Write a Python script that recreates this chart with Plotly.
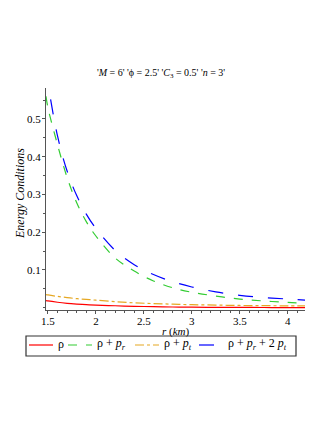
import plotly.graph_objects as go

# values
r_km = [1.48, 1.5, 1.6, 1.7, 1.8, 1.9, 2.0, 2.2, 2.4, 2.6, 2.8, 3.0, 3.25, 3.5, 3.75, 4.0, 4.18]
rho = [0.019, 0.018, 0.0145, 0.0118, 0.0098, 0.0082, 0.007, 0.0052, 0.0038, 0.0028, 0.002, 0.0015,
       0.0011, 0.0008, 0.0006, 0.0005, 0.0004]
rho_pr = [0.56, 0.530, 0.432, 0.345, 0.278, 0.228, 0.190, 0.132, 0.097, 0.071, 0.053, 0.041,
          0.031, 0.023, 0.018, 0.014, 0.012]
rho_pt = [0.035, 0.034, 0.030, 0.027, 0.024, 0.022, 0.020, 0.016, 0.013, 0.011, 0.0095, 0.008,
          0.007, 0.006, 0.0055, 0.005, 0.0048]
rho_pr_2pt = [0.63, 0.595, 0.455, 0.362, 0.297, 0.248, 0.210, 0.152, 0.114, 0.088, 0.069, 0.055,
              0.042, 0.033, 0.027, 0.023, 0.020]

x_ticks = [1.5, 2, 2.5, 3, 3.5, 4]
y_ticks = [0.1, 0.2, 0.3, 0.4, 0.5]

serif = 'Liberation Serif'
W, H = 332, 430
L, R, T, B = 46, 305, 88, 310   # plot area edges in px


def px_x(p):
    return (p - L) / (R - L)


def px_y(p):
    return (B - p) / (B - T)


series = [
    (rho, 'ρ', '#ff0000', 'solid'),
    (rho_pr, 'ρ + <i>p</i><sub><i>r</i></sub>', '#33cc33', 'dash'),
    (rho_pt, 'ρ + <i>p</i><sub><i>t</i></sub>', '#e6a823', 'dashdot'),
    (rho_pr_2pt, 'ρ + <i>p</i><sub><i>r</i></sub> + 2 <i>p</i><sub><i>t</i></sub>', '#0000ff', 'longdash'),
]

fig = go.Figure()
for vals, name, col, dash in series:
    fig.add_trace(go.Scatter(x=r_km, y=vals, name=name, mode='lines', line_shape='spline',
                             line=dict(color=col, width=1.2, dash=dash), showlegend=False))

# hand-made legend box below the axes, one row like the original
fig.add_shape(type='rect', xref='paper', yref='paper', x0=px_x(26), x1=px_x(296), y0=px_y(356), y1=px_y(336),
              line=dict(color='#333333', width=1.2), fillcolor='white', layer='above')
sample_x = [29, 68, 135, 199]
for (vals, name, col, dash), sx in zip(series, sample_x):
    fig.add_shape(type='line', xref='paper', yref='paper', x0=px_x(sx), x1=px_x(sx + 24),
                  y0=px_y(345), y1=px_y(345), line=dict(color=col, width=1.2, dash=dash))
    fig.add_annotation(text=name, xref='paper', yref='paper', x=px_x(sx + 27), y=px_y(344),
                       xanchor='left', yanchor='middle', showarrow=False,
                       font=dict(family=serif, size=12, color='black'))

# axis titles placed by hand
fig.add_annotation(text='<i>r</i> (<i>km</i>)', xref='paper', yref='paper', x=0.5, y=px_y(331),
                   xanchor='center', yanchor='middle', showarrow=False,
                   font=dict(family=serif, size=11, color='black'))
fig.add_annotation(text='<i>Energy Conditions</i>', xref='paper', yref='paper', x=px_x(20), y=px_y(194),
                   xanchor='center', yanchor='middle', textangle=-90, showarrow=False,
                   font=dict(family=serif, size=12, color='black'))

axis_common = dict(showline=True, linecolor='#555555', linewidth=1, mirror=False, showgrid=False,
                   zeroline=False, ticks='outside', ticklen=3, tickcolor='#555555',
                   tickfont=dict(family=serif, size=11, color='black'))

fig.update_layout(
    width=W, height=H,
    margin=dict(l=L, r=W - R, t=T, b=H - B, autoexpand=False),
    paper_bgcolor='white', plot_bgcolor='white',
    title=dict(text="'<i>M</i> = 6' 'ϕ = 2.5' '<i>C</i><sub>3</sub> = 0.5' '<i>n</i> = 3'",
               x=0.485, xanchor='center', y=1 - 72 / H, yanchor='middle',
               font=dict(family=serif, size=10, color='black')),
    xaxis=dict(range=[1.48, 4.18], tickvals=x_ticks, ticktext=[str(v) for v in x_ticks],
               minor=dict(dtick=0.1, ticks='outside', ticklen=2, tickcolor='#555555'),
               ticklabelstandoff=-2, **axis_common),
    yaxis=dict(range=[-0.006, 0.582], tickvals=y_ticks, ticktext=[str(v) for v in y_ticks],
               minor=dict(dtick=0.05, tick0=0, ticks='outside', ticklen=2, tickcolor='#555555'),
               ticklabelstandoff=-1, **axis_common),
    showlegend=False,
)

# page body has a default 8px margin; drop it so the figure sits at the window corner
fig.write_html("out.html", config={'displayModeBar': False},
               post_script="document.body.style.margin='0';")
